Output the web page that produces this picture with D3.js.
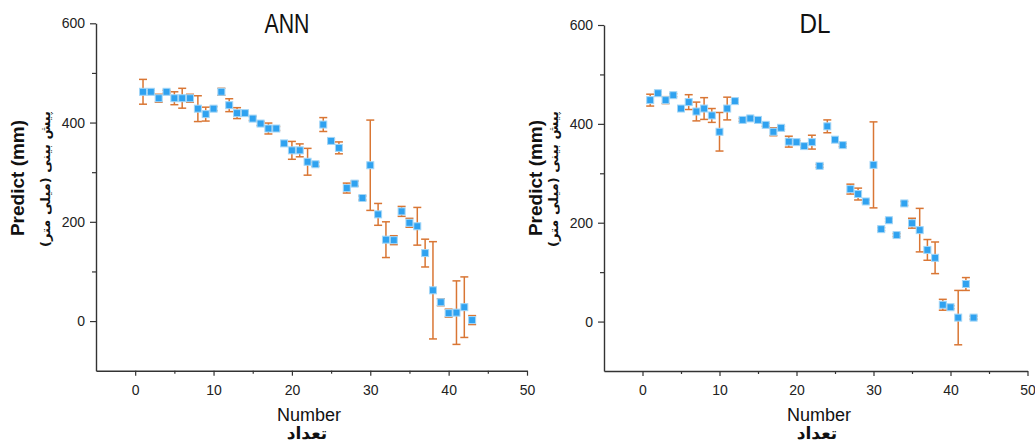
<!DOCTYPE html>
<html>
<head>
<meta charset="utf-8">
<script src="https://cdn.jsdelivr.net/npm/d3@7"></script>
<style>
  body { margin: 0; background: #fff; }
  svg text { font-family: "Liberation Sans", Arial, sans-serif; fill: #222; }
</style>
</head>
<body>
<div id="chart"></div>
<script>
// sample number (x axis)
var sampleNo = [1, 2, 3, 4, 5, 6, 7, 8, 9, 10, 11, 12, 13, 14, 15, 16, 17, 18, 19, 20, 21,
                22, 23, 24, 25, 26, 27, 28, 29, 30, 31, 32, 33, 34, 35, 36, 37, 38, 39, 40, 41, 42, 43];

// ANN predictions (mm) and error bar half lengths
var annValues = [462, 462, 449, 462, 449, 449, 449, 428, 417, 428, 462, 435, 419, 419, 408, 398, 388, 388, 358, 344, 344,
                 321, 316, 396, 363, 349, 268, 277, 248, 314, 215, 164, 163, 221, 198, 191, 137, 62, 38, 16, 17, 28, 2];
var annErrors = [25, 3, 8, 3, 13, 20, 8, 26, 14, 4, 7, 13, 11, 4, 4, 4, 11, 4, 4, 18, 13,
                 27, 4, 14, 4, 12, 10, 5, 4, 91, 22, 36, 9, 10, 9, 38, 28, 98, 7, 8, 64, 61, 9];

// DL predictions (mm) and error bar half lengths
var dlValues = [448, 462, 448, 458, 431, 444, 425, 431, 417, 384, 431, 446, 408, 411, 408, 398, 384, 392, 364, 363, 355,
                363, 315, 395, 368, 357, 268, 258, 243, 317, 187, 205, 175, 239, 199, 185, 145, 129, 34, 29, 8, 76, 8];
var dlErrors = [12, 3, 7, 3, 3, 15, 19, 22, 14, 39, 23, 3, 3, 3, 3, 3, 8, 3, 11, 3, 3,
                14, 3, 13, 3, 3, 10, 12, 3, 87, 3, 3, 3, 4, 10, 44, 21, 32, 11, 3, 55, 13, 3];

// tick labels
var xTicks = [0, 10, 20, 30, 40, 50];
var xMinorTicks = [5, 15, 25, 35, 45];
var yTicks = [0, 200, 400, 600];
var yMinorTicks = [100, 300, 500];

var width = 1035, height = 443;

var svg = d3.select("#chart")
    .append("svg")
        .attr("width", width)
        .attr("height", height);

// one entry per panel
var panels = [
    {title: "ANN", values: annValues, errors: annErrors,
     left: 96, right: 527, top: 23.3, bottom: 370.7,
     titleX: 287, titleLen: 45, labelX: 24, faLabelX: 50, numberX: 309},
    {title: "DL", values: dlValues, errors: dlErrors,
     left: 604, right: 1027.5, top: 25, bottom: 371,
     titleX: 815, titleLen: 31, labelX: 542, faLabelX: 558, numberX: 819}
];

panels.forEach(function(p) {
    var x = d3.scaleLinear()
        .domain([-5, 50])
        .range([p.left, p.right]);
    var y = d3.scaleLinear()
        .domain([-100, 600])
        .range([p.bottom, p.top]);

    var g = svg.append("g");

    // minor ticks first, main axes on top
    g.append("g")
        .attr("transform", "translate(0," + p.bottom + ")")
        .call(d3.axisBottom(x).tickValues(xMinorTicks).tickSize(3).tickFormat(""))
        .call(function(a) { a.select(".domain").remove(); });
    g.append("g")
        .attr("transform", "translate(" + p.left + ",0)")
        .call(d3.axisLeft(y).tickValues(yMinorTicks).tickSize(4).tickFormat(""))
        .call(function(a) { a.select(".domain").remove(); });

    g.append("g")
        .attr("transform", "translate(0," + p.bottom + ")")
        .call(d3.axisBottom(x).tickValues(xTicks).tickSize(5).tickSizeOuter(0).tickPadding(9));
    g.append("g")
        .attr("transform", "translate(" + p.left + ",0)")
        .call(d3.axisLeft(y).tickValues(yTicks).tickSize(6).tickSizeOuter(0).tickPadding(5));

    g.selectAll(".tick line").attr("stroke", "#333").attr("stroke-width", 1.2);
    g.selectAll(".domain").attr("stroke", "#333").attr("stroke-width", 1.4);
    g.selectAll(".tick text")
        .attr("font-size", 14)
        .attr("font-family", "Liberation Sans, Arial, sans-serif")
        .attr("fill", "#222");

    // error bars
    var bars = g.append("g")
        .attr("stroke", "#d97634")
        .attr("stroke-width", 1.5)
        .selectAll("g")
        .data(sampleNo)
        .enter().append("g");
    bars.append("line")
        .attr("x1", function(d) { return x(d); })
        .attr("x2", function(d) { return x(d); })
        .attr("y1", function(d, i) { return y(p.values[i] + p.errors[i]); })
        .attr("y2", function(d, i) { return y(p.values[i] - p.errors[i]); });
    bars.append("line")
        .attr("x1", function(d) { return x(d) - 4; })
        .attr("x2", function(d) { return x(d) + 4; })
        .attr("y1", function(d, i) { return y(p.values[i] + p.errors[i]); })
        .attr("y2", function(d, i) { return y(p.values[i] + p.errors[i]); });
    bars.append("line")
        .attr("x1", function(d) { return x(d) - 4; })
        .attr("x2", function(d) { return x(d) + 4; })
        .attr("y1", function(d, i) { return y(p.values[i] - p.errors[i]); })
        .attr("y2", function(d, i) { return y(p.values[i] - p.errors[i]); });

    // square markers
    g.append("g")
        .selectAll("rect")
        .data(sampleNo)
        .enter().append("rect")
            .attr("x", function(d) { return x(d) - 3.5; })
            .attr("y", function(d, i) { return y(p.values[i]) - 3.5; })
            .attr("width", 7)
            .attr("height", 7)
            .attr("fill", "#2fa2f0")
            .attr("stroke", "#a3d6f7")
            .attr("stroke-width", 1);

    // title
    g.append("text")
        .attr("x", p.titleX)
        .attr("y", 33)
        .attr("text-anchor", "middle")
        .attr("font-size", 28)
        .attr("textLength", p.titleLen)
        .attr("lengthAdjust", "spacingAndGlyphs")
        .style("fill", "#111")
        .text(p.title);

    // y labels
    g.append("text")
        .attr("transform", "translate(" + p.labelX + ",178) rotate(-90)")
        .attr("text-anchor", "middle")
        .attr("font-size", 19)
        .attr("font-weight", "bold")
        .style("fill", "#111")
        .text("Predict (mm)");
    g.append("text")
        .attr("transform", "translate(" + p.faLabelX + ",179) rotate(-90)")
        .attr("text-anchor", "middle")
        .attr("direction", "rtl")
        .attr("font-size", 13)
        .attr("font-weight", "bold")
        .style("font-family", "DejaVu Sans, sans-serif")
        .style("fill", "#111")
        .text("پیش بینی (میلی متر)");

    // x labels
    g.append("text")
        .attr("x", p.numberX)
        .attr("y", 421)
        .attr("text-anchor", "middle")
        .attr("font-size", 18)
        .style("fill", "#111")
        .text("Number");
    g.append("text")
        .attr("x", p.numberX - 2)
        .attr("y", 439)
        .attr("text-anchor", "middle")
        .attr("font-size", 17)
        .attr("font-weight", "bold")
        .style("font-family", "DejaVu Sans, sans-serif")
        .style("fill", "#111")
        .text("تعداد");
});
</script>
</body>
</html>
